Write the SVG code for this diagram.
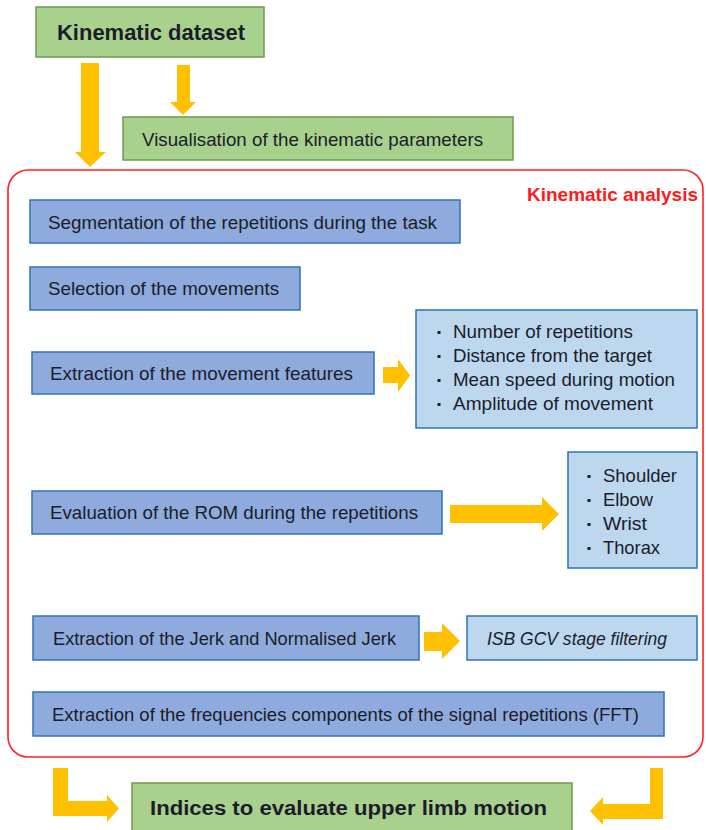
<svg xmlns="http://www.w3.org/2000/svg" width="706" height="830" viewBox="0 0 706 830">
  <style>
    text { font-family: "Liberation Sans", Arial, sans-serif; fill: #1c1c2a; }
    .t { font-size: 19px; }
    .b { font-weight: bold; }
    .green { fill: #A9D18E; stroke: #6F9B4C; stroke-width: 1.5; }
    .blue { fill: #8FAADC; stroke: #2E75B6; stroke-width: 1.5; }
    .light { fill: #BDD7EE; stroke: #2E75B6; stroke-width: 1.5; }
    .arrow { fill: #FFC000; }
    .dot { fill: #1c1c2a; }
  </style>
  <rect width="706" height="830" fill="#ffffff"/>

  <!-- analysis frame -->
  <g id="kinematic-analysis">
    <rect x="8" y="170" width="695" height="587" rx="20" fill="none" stroke="#FF2020" stroke-width="1.6"/>
    <text x="527" y="201" class="b" font-size="18.5" style="fill:#FF1A1A" textLength="171" lengthAdjust="spacingAndGlyphs">Kinematic analysis</text>
  </g>

  <g id="kinematic-dataset">
    <rect class="green" x="36" y="7" width="228" height="50"/>
    <text x="57" y="40" class="b" font-size="21.5" textLength="188" lengthAdjust="spacingAndGlyphs">Kinematic dataset</text>
  </g>

  <g id="visualisation">
    <rect class="green" x="123" y="117" width="390" height="43"/>
    <text x="142" y="146" class="t" textLength="341" lengthAdjust="spacingAndGlyphs">Visualisation of the kinematic parameters</text>
  </g>

  <g id="segmentation">
    <rect class="blue" x="30" y="200" width="430" height="43"/>
    <text x="48" y="229" class="t" textLength="389" lengthAdjust="spacingAndGlyphs">Segmentation of the repetitions during the task</text>
  </g>

  <g id="selection">
    <rect class="blue" x="30" y="267" width="270" height="43"/>
    <text x="48" y="295" class="t" textLength="231" lengthAdjust="spacingAndGlyphs">Selection of the movements</text>
  </g>

  <g id="movement-features">
    <rect class="blue" x="32" y="352" width="342" height="42"/>
    <text x="50" y="380" class="t" textLength="303" lengthAdjust="spacingAndGlyphs">Extraction of the movement features</text>
  </g>

  <g id="feature-list">
    <rect class="light" x="416" y="310" width="281" height="118"/>
    <rect class="dot" x="437.5" y="331" width="3" height="3"/>
    <rect class="dot" x="437.5" y="355" width="3" height="3"/>
    <rect class="dot" x="437.5" y="379" width="3" height="3"/>
    <rect class="dot" x="437.5" y="403" width="3" height="3"/>
    <text x="453" y="338" class="t" textLength="180" lengthAdjust="spacingAndGlyphs">Number of repetitions</text>
    <text x="453" y="362" class="t" textLength="199" lengthAdjust="spacingAndGlyphs">Distance from the target</text>
    <text x="453" y="386" class="t" textLength="222" lengthAdjust="spacingAndGlyphs">Mean speed during motion</text>
    <text x="453" y="410" class="t" textLength="200" lengthAdjust="spacingAndGlyphs">Amplitude of movement</text>
  </g>

  <g id="rom">
    <rect class="blue" x="32" y="491" width="410" height="43"/>
    <text x="50" y="519" class="t" textLength="368" lengthAdjust="spacingAndGlyphs">Evaluation of the ROM during the repetitions</text>
  </g>

  <g id="joint-list">
    <rect class="light" x="568" y="452" width="129" height="116"/>
    <rect class="dot" x="587.5" y="475" width="3" height="3"/>
    <rect class="dot" x="587.5" y="499" width="3" height="3"/>
    <rect class="dot" x="587.5" y="523" width="3" height="3"/>
    <rect class="dot" x="587.5" y="547" width="3" height="3"/>
    <text x="603" y="482" class="t" textLength="74" lengthAdjust="spacingAndGlyphs">Shoulder</text>
    <text x="603" y="506" class="t" textLength="50" lengthAdjust="spacingAndGlyphs">Elbow</text>
    <text x="603" y="530" class="t" textLength="44" lengthAdjust="spacingAndGlyphs">Wrist</text>
    <text x="603" y="554" class="t" textLength="57" lengthAdjust="spacingAndGlyphs">Thorax</text>
  </g>

  <g id="jerk">
    <rect class="blue" x="33" y="616" width="386" height="44"/>
    <text x="53" y="645" class="t" textLength="343" lengthAdjust="spacingAndGlyphs">Extraction of the Jerk and Normalised Jerk</text>
  </g>

  <g id="filtering">
    <rect class="light" x="467" y="616" width="230" height="44"/>
    <text x="487" y="645" class="t" font-style="italic" textLength="180" lengthAdjust="spacingAndGlyphs">ISB GCV stage filtering</text>
  </g>

  <g id="fft">
    <rect class="blue" x="33" y="692" width="631" height="44"/>
    <text x="52" y="721" class="t" textLength="587" lengthAdjust="spacingAndGlyphs">Extraction of the frequencies components of the signal repetitions (FFT)</text>
  </g>

  <g id="indices">
    <rect class="green" x="132" y="783" width="440" height="52"/>
    <text x="150" y="815" class="b" font-size="19.5" textLength="397" lengthAdjust="spacingAndGlyphs">Indices to evaluate upper limb motion</text>
  </g>

  <!-- block arrows -->
  <g id="connectors">
    <polygon class="arrow" points="81,63 99,63 99,152 106,152 90,167 75,152 81,152"/>
    <polygon class="arrow" points="177,65 190,65 190,102 196,102 183,115 170,102 177,102"/>
    <polygon class="arrow" points="383,367 398,367 398,359 410,375.5 398,392 398,383 383,383"/>
    <polygon class="arrow" points="450,505 542,505 542,497 559,514 542,531 542,523 450,523"/>
    <polygon class="arrow" points="424,632 442,632 442,623 460,641 442,659 442,651 424,651"/>
    <polygon class="arrow" points="53,768 68,768 68,801 107,801 107,795 119,808.5 107,822 107,816 53,816"/>
    <polygon class="arrow" points="650,768 663,768 663,819 603,819 603,825 590,811 603,797 603,804 650,804"/>
  </g>
</svg>
